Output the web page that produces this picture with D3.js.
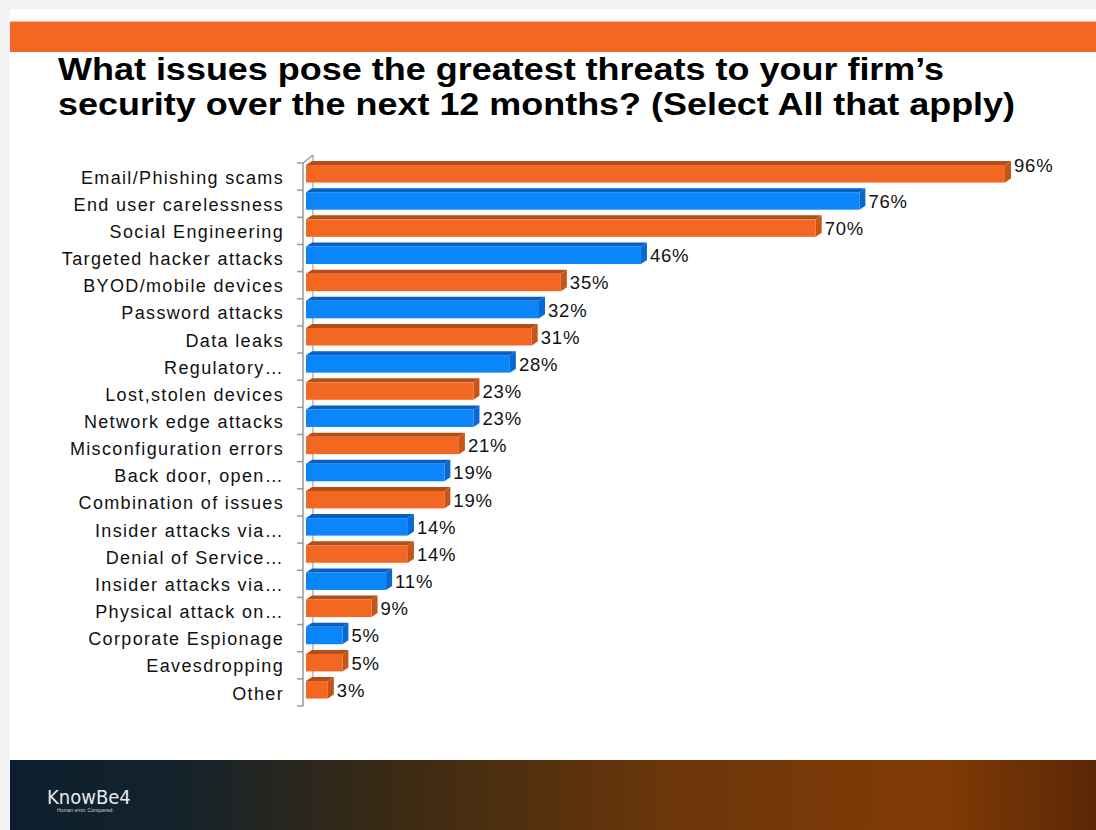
<!DOCTYPE html>
<html>
<head>
<meta charset="utf-8">
<script src="https://cdn.jsdelivr.net/npm/d3@7"></script>
<style>
  body { margin: 0; background: #f3f3f3; }
  svg { display: block; }
</style>
</head>
<body>
<div id="chart"></div>
<script>
// survey answers, top to bottom
var categories = ["Email/Phishing scams", "End user carelessness", "Social Engineering",
  "Targeted hacker attacks", "BYOD/mobile devices", "Password attacks", "Data leaks",
  "Regulatory\u2026", "Lost,stolen devices", "Network edge attacks", "Misconfiguration errors",
  "Back door, open\u2026", "Combination of issues", "Insider attacks via\u2026",
  "Denial of Service\u2026", "Insider attacks via\u2026", "Physical attack on\u2026",
  "Corporate Espionage", "Eavesdropping", "Other"];
var values = [96, 76, 70, 46, 35, 32, 31, 28, 23, 23, 21, 19, 19, 14, 14, 11, 9, 5, 5, 3];
var groups = ["o", "b", "o", "b", "o", "b", "o", "b", "o", "b", "o", "b", "o", "b", "o", "b", "o", "b", "o", "o"];
var titleLines = ["What issues pose the greatest threats to your firm\u2019s",
  "security over the next 12 months? (Select All that apply)"];

var W = 1096, H = 830;
var svg = d3.select("#chart").append("svg").attr("width", W).attr("height", H);

// slide
svg.append("rect").attr("x", 10).attr("y", 9).attr("width", W - 10).attr("height", H - 9).attr("fill", "#fff");
svg.append("rect").attr("x", 10).attr("y", 21).attr("width", W - 10).attr("height", 1).attr("fill", "#f6b894");
svg.append("rect").attr("x", 10).attr("y", 22).attr("width", W - 10).attr("height", 30).attr("fill", "#f26722");

// slide is stretched sideways, so the title glyphs are widened
var title = svg.append("text").attr("font-family", "Liberation Sans, Arial, sans-serif")
  .attr("font-weight", "bold").attr("font-size", 32).attr("fill", "#000");
title.append("tspan").attr("x", 58).attr("y", 80).attr("textLength", 886)
  .attr("lengthAdjust", "spacingAndGlyphs").text(titleLines[0]);
title.append("tspan").attr("x", 58).attr("y", 115).attr("textLength", 957)
  .attr("lengthAdjust", "spacingAndGlyphs").text(titleLines[1]);

// scales
var x = d3.scaleLinear().domain([0, 96]).range([306, 1005]);
var idx = d3.range(categories.length);
var y = d3.scaleBand().domain(idx).range([160.2, 160.2 + 20 * 27.16]).paddingInner(0.356).paddingOuter(0.178);
var faceCol = d3.scaleOrdinal().domain(["o", "b"]).range(["#f26722", "#0a85fa"]);
var topCol = d3.scaleOrdinal().domain(["o", "b"]).range(["#b44d17", "#0660c4"]);
var sideCol = d3.scaleOrdinal().domain(["o", "b"]).range(["#c4561a", "#0869d2"]);

// 3d wall
var wx = 303, wd = 10, wdy = 8;
var wTop = 163, wBot = 706;
var wall = svg.append("g").attr("stroke", "#9a9a9a").attr("stroke-width", 1.5).attr("fill", "none");
wall.append("line").attr("x1", wx + wd).attr("x2", wx + wd).attr("y1", wTop - wdy).attr("y2", wBot - wdy).attr("stroke", "#b5b5b5");
wall.append("line").attr("x1", wx).attr("x2", wx + wd).attr("y1", wTop).attr("y2", wTop - wdy);
wall.append("line").attr("x1", wx).attr("x2", wx).attr("y1", wTop).attr("y2", wBot);
wall.selectAll(".tk").data(d3.range(categories.length + 1)).join("line")
  .attr("x1", wx - 6).attr("x2", wx)
  .attr("y1", function (i) { return wTop + i * (wBot - wTop) / 20; })
  .attr("y2", function (i) { return wTop + i * (wBot - wTop) / 20; });

// bars
var dx = 6, dy = 4;
var bars = svg.append("g").selectAll("g").data(idx).join("g");
bars.append("polygon").attr("fill", function (i) { return topCol(groups[i]); })
  .attr("points", function (i) {
    var x0 = x(0), x1 = x(values[i]), yt = y(i);
    return [[x0, yt], [x0 + dx, yt - dy], [x1 + dx, yt - dy], [x1, yt]].join(" ");
  });
bars.append("polygon").attr("fill", function (i) { return sideCol(groups[i]); })
  .attr("points", function (i) {
    var x1 = x(values[i]), yt = y(i), yb = yt + y.bandwidth();
    return [[x1, yt], [x1 + dx, yt - dy], [x1 + dx, yb - dy], [x1, yb]].join(" ");
  });
bars.append("rect").attr("fill", function (i) { return faceCol(groups[i]); })
  .attr("x", x(0)).attr("y", function (i) { return y(i); })
  .attr("width", function (i) { return x(values[i]) - x(0); })
  .attr("height", y.bandwidth());

// category labels
svg.append("g").selectAll("text").data(idx).join("text")
  .attr("x", 284).attr("y", function (i) { return y(i) + y.bandwidth() / 2 + 4; })
  .attr("dy", "0.32em").attr("text-anchor", "end")
  .attr("font-family", "Liberation Sans, Arial, sans-serif").attr("font-size", 18)
  .attr("letter-spacing", 1.35).attr("fill", "#111")
  .text(function (i) { return categories[i]; });

// value labels
svg.append("g").selectAll("text").data(idx).join("text")
  .attr("x", function (i) { return x(values[i]) + dx + 3; })
  .attr("y", function (i) { return y(i) + y.bandwidth() / 2 + (i === 0 ? -8 : 1); })
  .attr("dy", "0.32em")
  .attr("font-family", "Liberation Sans, Arial, sans-serif").attr("font-size", 18.5)
  .attr("letter-spacing", 0.8).attr("fill", "#111")
  .text(function (i) { return values[i] + "%"; });

// footer band
var defs = svg.append("defs");
var g = defs.append("linearGradient").attr("id", "foot").attr("x1", "0").attr("x2", "1");
g.append("stop").attr("offset", "0").attr("stop-color", "#0d1f2e");
g.append("stop").attr("offset", "0.15").attr("stop-color", "#13222c");
g.append("stop").attr("offset", "0.35").attr("stop-color", "#3a2a14");
g.append("stop").attr("offset", "0.6").attr("stop-color", "#6a360a");
g.append("stop").attr("offset", "0.85").attr("stop-color", "#823b06");
g.append("stop").attr("offset", "1").attr("stop-color", "#5a2806");
svg.append("rect").attr("x", 10).attr("y", 760).attr("width", W - 10).attr("height", 70).attr("fill", "url(#foot)");
svg.append("text").attr("x", 47).attr("y", 804).attr("font-family", "DejaVu Sans Condensed, sans-serif")
  .attr("font-size", 20).attr("font-weight", 200).attr("fill", "#e8e8e8").text("KnowBe4");
svg.append("text").attr("x", 57).attr("y", 812).attr("font-family", "Liberation Sans, sans-serif")
  .attr("font-size", 5).attr("fill", "#cfcfcf").text("Human error. Conquered.");
</script>
</body>
</html>
